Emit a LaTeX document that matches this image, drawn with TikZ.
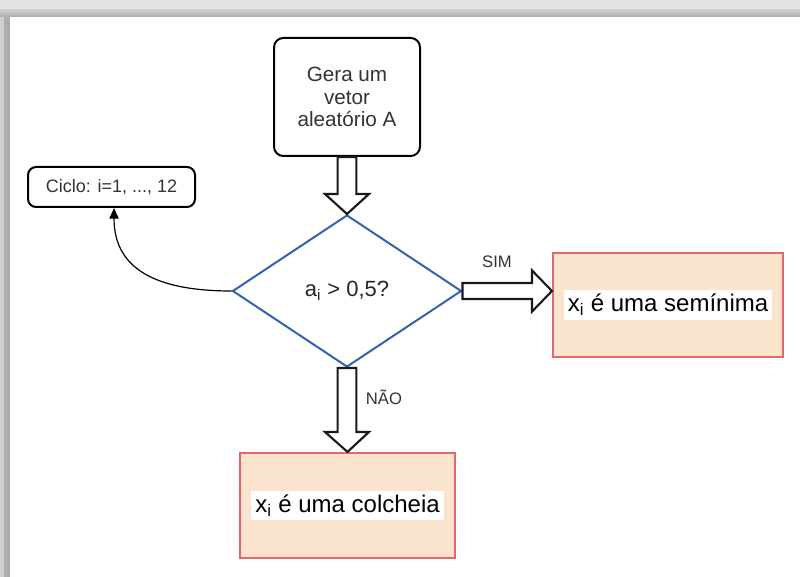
\documentclass[tikz,border=0pt]{standalone}
\usepackage{fontspec}
\setmainfont{Liberation Sans}
\usetikzlibrary{shapes.geometric,arrows.meta,calc}

\definecolor{inkgray}{HTML}{333333}
\definecolor{decblue}{HTML}{2F63B4}
\definecolor{resred}{HTML}{E4666A}
\definecolor{respeach}{HTML}{FBE4CD}

\tikzset{
  roundbox/.style={draw=black, line width=1.5pt, rounded corners=7pt, fill=white, inner sep=0pt},
  resultbox/.style={draw=resred, line width=1.6pt, fill=respeach, inner sep=0pt},
  restext/.style={fill=white, inner sep=3pt, font=\fontsize{18}{20}\selectfont, text=black},
  decision/.style={diamond, draw=decblue, line width=1.5pt, inner sep=0pt},
  hollowarr/.style={draw=black!90, line width=1.6pt, fill=white, line join=miter},
  tag/.style={font=\fontsize{12.5}{14}\selectfont, text=inkgray},
}

% block arrow pointing down from #1 to #2
\newcommand\blockdown[2]{%
  \draw[hollowarr] let \p1=(#1), \p2=(#2) in
    (\x1-7pt,\y1) -- (\x1-7pt,\y2+15pt) -- (\x1-16.5pt,\y2+15pt) -- (\x2,\y2)
    -- (\x1+16.5pt,\y2+15pt) -- (\x1+7pt,\y2+15pt) -- (\x1+7pt,\y1) -- cycle;}
% block arrow pointing right from #1 to #2
\newcommand\blockright[2]{%
  \draw[hollowarr] let \p1=(#1), \p2=(#2) in
    (\x1,\y1+6pt) -- (\x2-15pt,\y1+6pt) -- (\x2-15pt,\y1+15.5pt) -- (\x2,\y2)
    -- (\x2-15pt,\y1-15.5pt) -- (\x2-15pt,\y1-6pt) -- (\x1,\y1-6pt) -- cycle;}

\begin{document}
\begin{tikzpicture}[x=0.75pt,y=-0.75pt]
\useasboundingbox (0,0) rectangle (800,577);

% shaded page edge
\fill[black!11] (0,0) rectangle (800,10);
\shade[top color=black!20, bottom color=black!32] (0,10) rectangle (800,17);
\fill[black!19] (0,17) rectangle (4,577);
\fill[black!32] (4,17) rectangle (10,577);

% nodes
\node[roundbox, minimum width=109.5pt, minimum height=88.5pt, align=center,
      text=inkgray, font=\fontsize{15.5}{17}\selectfont] (gen) at (347,97)
      {Gera um\\vetor\\aleatório A};

\node[decision, minimum width=171.75pt, minimum height=114pt,
      font=\fontsize{16.5}{19}\selectfont, text=black!85] (dec) at (347,291)
      {a\textsubscript{i} > 0,5?};

\node[roundbox, rounded corners=6pt, minimum width=125.25pt, minimum height=30pt,
      font=\fontsize{13.5}{15}\selectfont, text=inkgray] (loop) at (111.5,187)
      {Ciclo: i=1, ..., 12};

\node[resultbox, minimum width=172.5pt, minimum height=78pt] (sem) at (668,305) {};
\node[restext] (semtxt) at (sem.center) {x\textsubscript{i} é uma semínima};

\node[resultbox, minimum width=161.25pt, minimum height=78.75pt] (col) at (347.5,505.5) {};
\node[restext] (coltxt) at (col.center) {x\textsubscript{i} é uma colcheia};

% connectors
\blockdown{gen.south}{dec.north}
\blockdown{dec.south}{col.north}
\blockright{dec.east}{dec.east -| sem.west}

\node[tag] (yes) at (497,262) {SIM};
\node[tag] (no) at (384,397) {NÃO};

\draw[line width=0.9pt, -{Triangle[length=8pt,width=7pt]}]
  (dec.west) .. controls +(-85,0) and +(0,55) .. ([xshift=1.9pt]loop.south);
\end{tikzpicture}
\end{document}
